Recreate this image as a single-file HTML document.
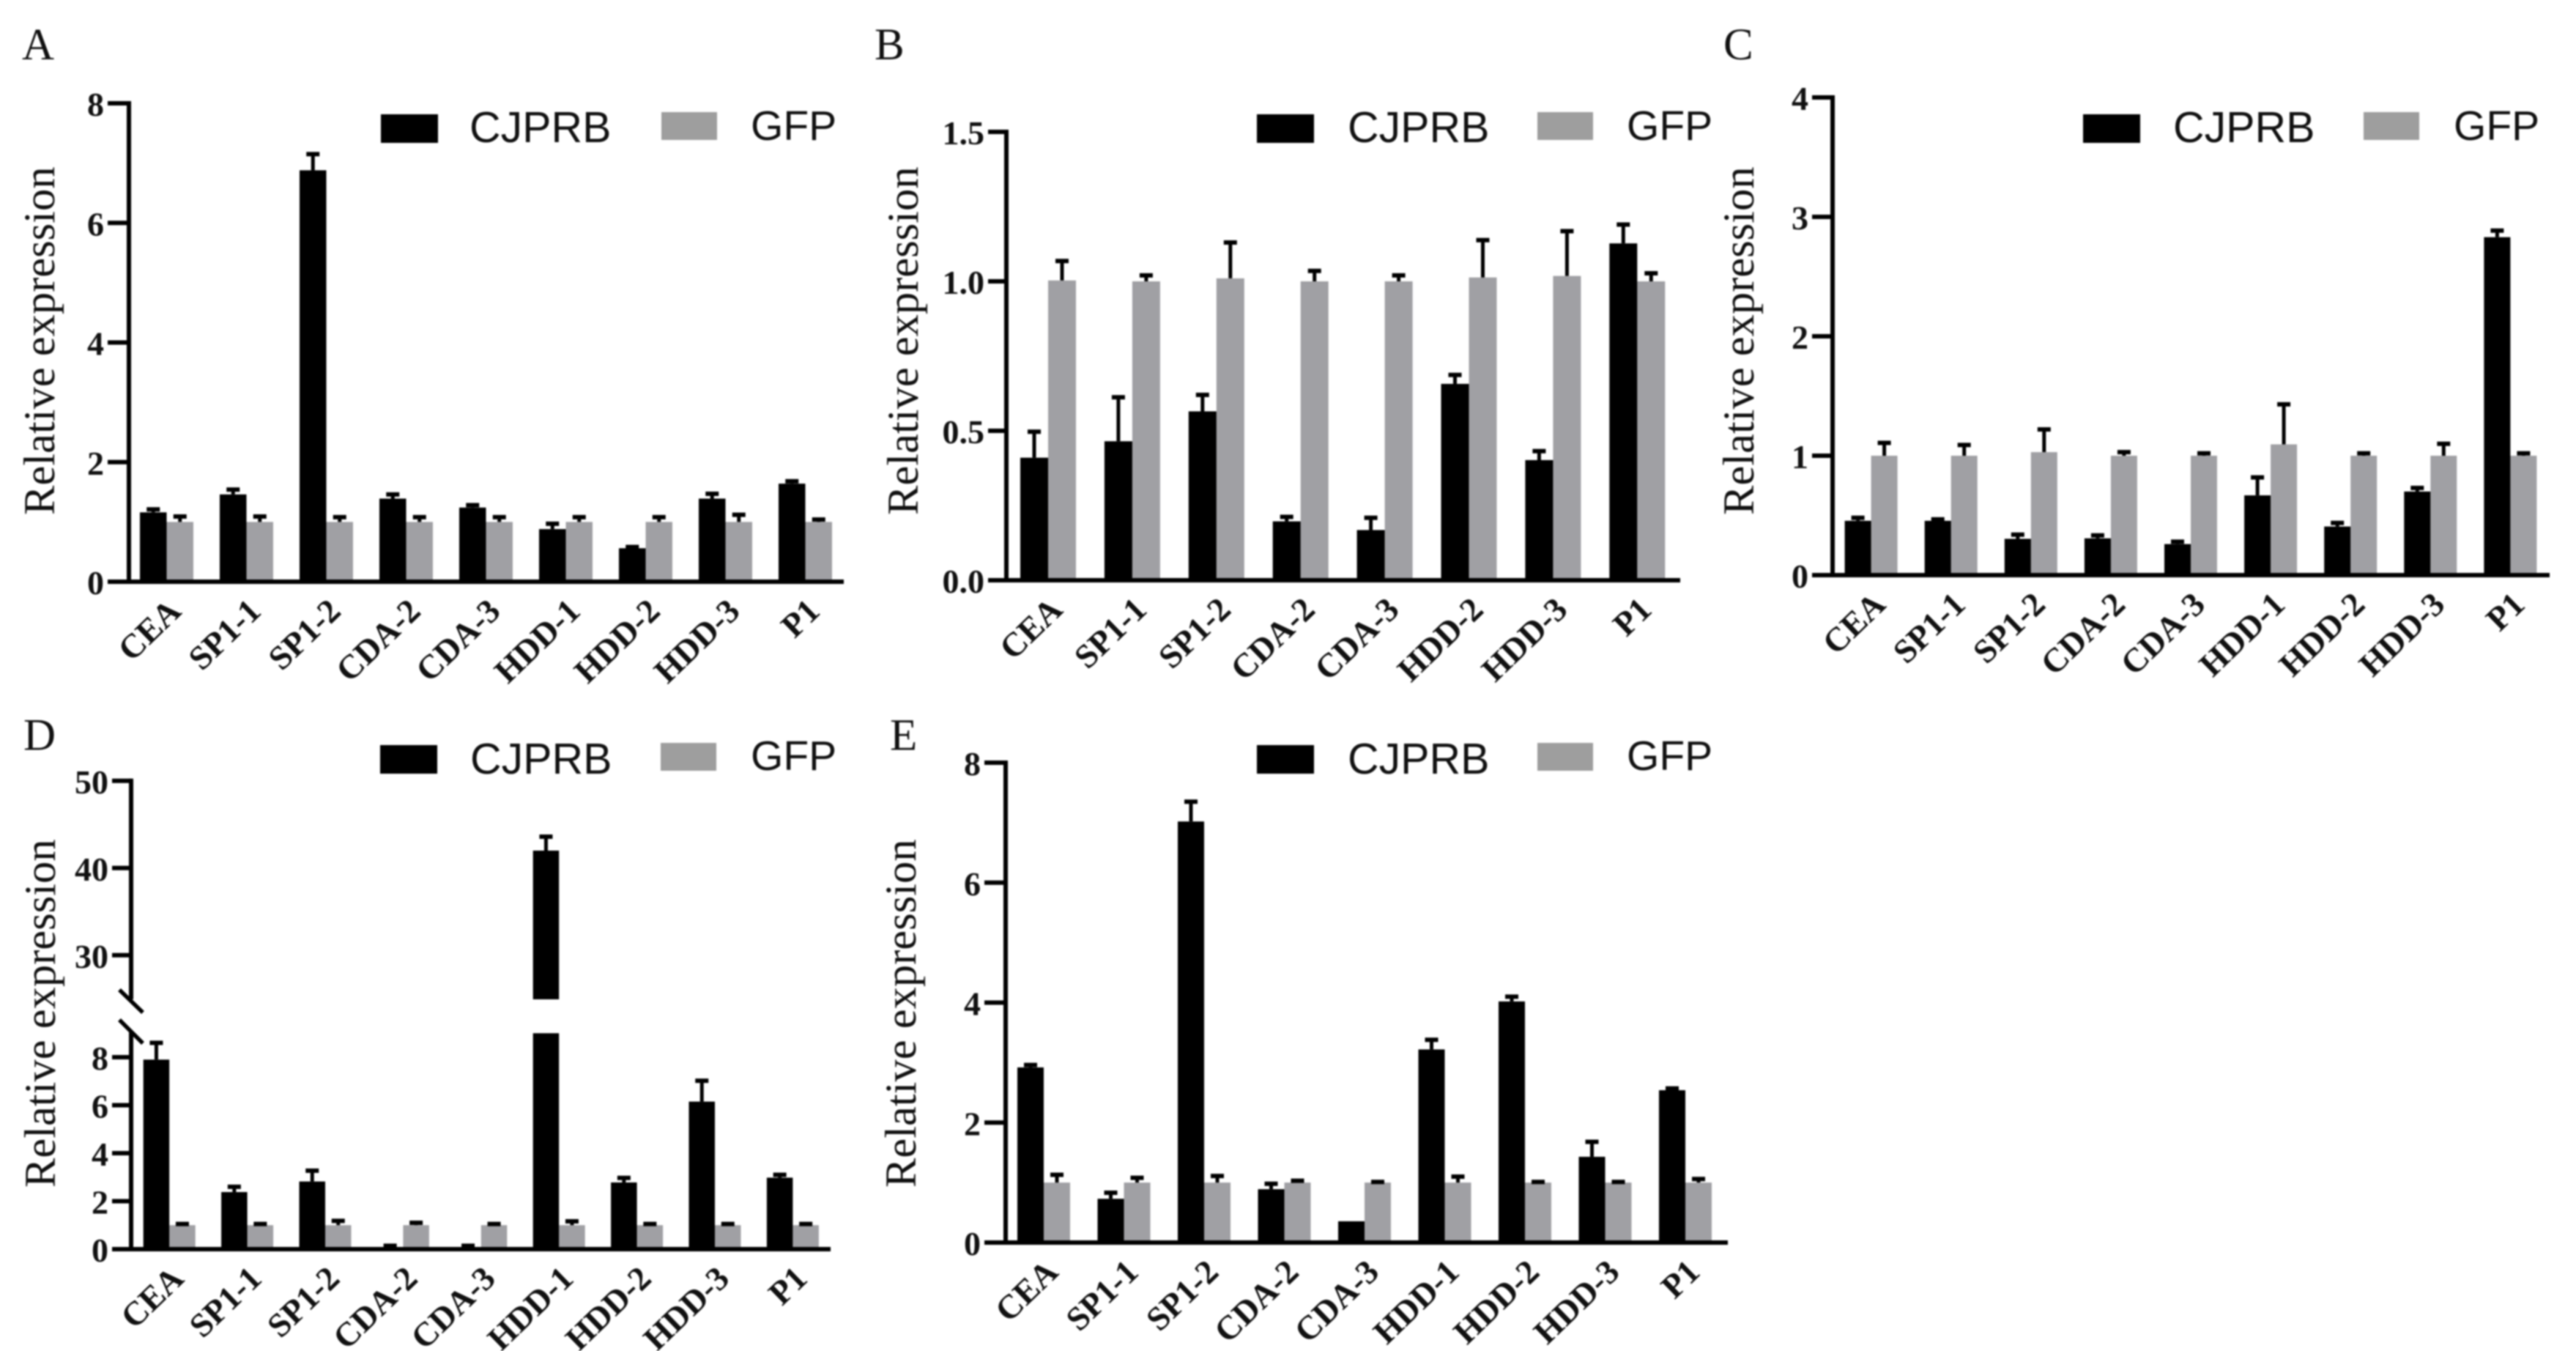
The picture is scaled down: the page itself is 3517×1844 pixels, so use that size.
<!DOCTYPE html>
<html lang="en">
<head>
<meta charset="utf-8">
<title>Relative expression panels A-E</title>
<style>
  html, body { margin: 0; padding: 0; background: #fff; }
  body { width: 3517px; height: 1844px; overflow: hidden; }
  svg { display: block; filter: blur(1px); }
  .serif { font-family: "Liberation Serif", serif; }
  .sans { font-family: "Liberation Sans", sans-serif; }
</style>
</head>
<body>
<svg id="figure" xmlns="http://www.w3.org/2000/svg" width="3517" height="1844" viewBox="0 0 3517 1844"></svg>
<script>
// ---------- data ----------
const categories9A = ['CEA','SP1-1','SP1-2','CDA-2','CDA-3','HDD-1','HDD-2','HDD-3','P1'];
const categories8B = ['CEA','SP1-1','SP1-2','CDA-2','CDA-3','HDD-2','HDD-3','P1'];
const categories9C = ['CEA','SP1-1','SP1-2','CDA-2','CDA-3','HDD-1','HDD-2','HDD-3','P1'];
const categories9D = ['CEA','SP1-1','SP1-2','CDA-2','CDA-3','HDD-1','HDD-2','HDD-3','P1'];
const categories9E = ['CEA','SP1-1','SP1-2','CDA-2','CDA-3','HDD-1','HDD-2','HDD-3','P1'];

const ticksA = [0, 2, 4, 6, 8];
const ticksB = ['0.0', '0.5', '1.0', '1.5'];
const ticksC = [0, 1, 2, 3, 4];
const ticksD = [0, 2, 4, 6, 8, 30, 40, 50];
const ticksE = [0, 2, 4, 6, 8];

const cjprbA = [1.16, 1.46, 6.88, 1.39, 1.24, 0.88, 0.56, 1.39, 1.64];
const cjprbErrA = [0.05, 0.08, 0.27, 0.07, 0.04, 0.09, 0.02, 0.08, 0.04];
const gfpA = [1, 1, 1, 1, 1, 1, 1, 1, 1];
const gfpErrA = [0.09, 0.09, 0.08, 0.08, 0.08, 0.08, 0.08, 0.12, 0.04];

const cjprbB = [0.41, 0.465, 0.565, 0.197, 0.168, 0.657, 0.402, 1.127];
const cjprbErrB = [0.087, 0.147, 0.055, 0.015, 0.041, 0.03, 0.03, 0.063];
const gfpB = [1.003, 1, 1.01, 1, 1, 1.013, 1.018, 1];
const gfpErrB = [0.065, 0.02, 0.12, 0.035, 0.02, 0.125, 0.15, 0.027];

const cjprbC = [0.455, 0.455, 0.304, 0.308, 0.26, 0.668, 0.407, 0.70, 2.83];
const cjprbErrC = [0.025, 0.012, 0.035, 0.025, 0.02, 0.15, 0.03, 0.03, 0.055];
const gfpC = [1, 1, 1.03, 1, 1, 1.095, 1, 1, 1];
const gfpErrC = [0.107, 0.09, 0.19, 0.03, 0.02, 0.335, 0.02, 0.1, 0.02];

const cjprbD = [7.9, 2.38, 2.82, 0.05, 0.05, 42, 2.78, 6.15, 2.98];
const cjprbErrD = [0.7, 0.22, 0.45, 0.09, 0.09, 1.6, 0.19, 0.87, 0.12];
const gfpD = [1, 1, 1, 1, 1, 1, 1, 1, 1];
const gfpErrD = [0.05, 0.05, 0.18, 0.1, 0.05, 0.16, 0.05, 0.05, 0.05];

const cjprbE = [2.92, 0.73, 7.02, 0.89, 0.355, 3.22, 4.02, 1.43, 2.54];
const cjprbErrE = [0.04, 0.1, 0.33, 0.09, 0, 0.16, 0.08, 0.25, 0.03];
const gfpE = [1, 1, 1, 1, 1, 1, 1, 1, 1];
const gfpErrE = [0.13, 0.08, 0.11, 0.03, 0.01, 0.1, 0.01, 0.01, 0.06];

// ---------- layout ----------
const BLACK = '#000000';
const GRAY = '#a0a0a4';
const LEGEND_GRAY = '#9e9e9e';
const NS = 'http://www.w3.org/2000/svg';
const svg = document.getElementById('figure');

function make(tag, attrs, parent) {
  const el = document.createElementNS(NS, tag);
  for (const k in attrs) el.setAttribute(k, attrs[k]);
  (parent || svg).appendChild(el);
  return el;
}

const layouts = [
  { id: 'a', letter: 'A', lx: 30, ly: 81, cats: categories9A, ticks: ticksA, c: cjprbA, ce: cjprbErrA, g: gfpA, ge: gfpErrA,
    axisX: 176, yTop: 141, yBase: 794, yMax: 8, tickLeft: 147, xEnd: 1152, first: 191, barW: 36.5, pitch: 109,
    titleX: 74, titleY: 703,
    leg: { s1: 520, t1: 641, s2: 903, t2: 1025, y1: 156, y2: 153, b1: 193, b2: 191 } },
  { id: 'b', letter: 'B', lx: 1194, ly: 81, cats: categories8B, ticks: ticksB, c: cjprbB, ce: cjprbErrB, g: gfpB, ge: gfpErrB,
    axisX: 1374, yTop: 180, yBase: 792, yMax: 1.5, tickLeft: 1349, xEnd: 2294, first: 1393, barW: 38, pitch: 114.9,
    titleX: 1253, titleY: 703,
    leg: { s1: 1716, t1: 1840, s2: 2099, t2: 2221, y1: 156, y2: 153, b1: 193, b2: 191 } },
  { id: 'c', letter: 'C', lx: 2353, ly: 81, cats: categories9C, ticks: ticksC, c: cjprbC, ce: cjprbErrC, g: gfpC, ge: gfpErrC,
    axisX: 2502, yTop: 133, yBase: 785, yMax: 4, tickLeft: 2474, xEnd: 3481, first: 2518.6, barW: 36, pitch: 109.1,
    titleX: 2394, titleY: 703,
    leg: { s1: 2844, t1: 2967, s2: 3227, t2: 3350, y1: 156, y2: 153, b1: 193, b2: 191 } },
  { id: 'd', letter: 'D', lx: 32, ly: 1023.5, cats: categories9D, ticks: ticksD, c: cjprbD, ce: cjprbErrD, g: gfpD, ge: gfpErrD,
    axisX: 179, yTop: 1065.7, yBase: 1705, yMax: 50, tickLeft: 153, xEnd: 1134, first: 195.7, barW: 35.5, pitch: 106.4,
    titleX: 75, titleY: 1621,
    broken: { lowMax: 9, highMin: 25, lowUnit: 32.75, y30: 1303.8, highUnit: 11.9, lowTopY: 1408, highBottomY: 1364 },
    leg: { s1: 519, t1: 642, s2: 902, t2: 1025, y1: 1017, y2: 1014, b1: 1055, b2: 1051 } },
  { id: 'e', letter: 'E', lx: 1215, ly: 1023.5, cats: categories9E, ticks: ticksE, c: cjprbE, ce: cjprbErrE, g: gfpE, ge: gfpErrE,
    axisX: 1373, yTop: 1041, yBase: 1696, yMax: 8, tickLeft: 1344, xEnd: 2359, first: 1389, barW: 36, pitch: 109.5,
    titleX: 1250, titleY: 1621,
    leg: { s1: 1716, t1: 1840, s2: 2099, t2: 2221, y1: 1017, y2: 1014, b1: 1055, b2: 1051 } }
];

function yScale(p, v) {
  if (p.broken) {
    const b = p.broken;
    if (v <= b.lowMax) return p.yBase - v * b.lowUnit;
    return b.y30 - (v - 30) * b.highUnit;
  }
  return p.yBase - (v / p.yMax) * (p.yBase - p.yTop);
}

function drawBar(p, g, x, v, fill, name) {
  if (p.broken && v > p.broken.highMin) {
    const top = yScale(p, v);
    const upper = make('rect', { x: x, y: top, width: p.barW, height: p.broken.highBottomY - top, fill: fill }, g);
    
    
    const ly = yScale(p, p.broken.lowMax);
    const lower = make('rect', { x: x, y: ly, width: p.barW, height: p.yBase - ly, fill: fill }, g);
    
    
  } else {
    const top = yScale(p, v);
    const bar = make('rect', { x: x, y: top, width: p.barW, height: p.yBase - top, fill: fill }, g);
    
    
  }
}

function drawError(p, g, cx, v, e, name) {
  if (!e) return;
  const y0 = yScale(p, v);
  const y1 = yScale(p, v + e);
  const stem = make('line', { x1: cx, x2: cx, y1: y0, y2: y1, stroke: BLACK, 'stroke-width': 5 }, g);
  
  
  const cap = make('line', { x1: cx - 9, x2: cx + 9, y1: y1, y2: y1, stroke: BLACK, 'stroke-width': 6 }, g);
  
  
}

layouts.forEach(function (p) {
  const g = make('g', {});
  
  

  const letter = make('text', { x: p.lx, y: p.ly, 'font-size': 61, class: 'serif', fill: '#111' }, g);
  letter.textContent = p.letter;
  
  

  const title = make('text', { transform: 'translate(' + p.titleX + ',' + p.titleY + ') rotate(-90)', 'font-size': 60.5, class: 'serif', fill: '#111' }, g);
  title.textContent = 'Relative expression';
  
  

  // bars and error bars
  p.cats.forEach(function (cat, i) {
    const x = p.first + i * p.pitch;
    const key = cat.toLowerCase();
    drawBar(p, g, x + p.barW, p.g[i], GRAY, 'bar-gfp-' + key);
    drawError(p, g, x + p.barW * 1.5, p.g[i], p.ge[i], 'error-gfp-' + key);
    drawBar(p, g, x, p.c[i], BLACK, 'bar-cjprb-' + key);
    drawError(p, g, x + p.barW * 0.5, p.c[i], p.ce[i], 'error-cjprb-' + key);

    const lx = x + p.barW + 22;
    const ly = p.yBase + 43;
    const label = make('text', { transform: 'translate(' + lx + ',' + ly + ') rotate(-44)', 'text-anchor': 'end', 'font-size': 46, 'font-weight': 'bold', class: 'serif', fill: '#111' }, g);
    label.textContent = cat;
    
    
  });

  // axes
  if (p.broken) {
    const b = p.broken;
    const up = make('line', { x1: p.axisX, x2: p.axisX, y1: p.yTop - 3, y2: b.highBottomY, stroke: BLACK, 'stroke-width': 6 }, g);
    
    
    const low = make('line', { x1: p.axisX, x2: p.axisX, y1: b.lowTopY, y2: p.yBase + 3, stroke: BLACK, 'stroke-width': 6 }, g);
    
    
    const s1 = make('line', { x1: p.axisX - 16, y1: b.highBottomY - 13, x2: p.axisX + 16, y2: b.highBottomY + 18, stroke: BLACK, 'stroke-width': 5.5 }, g);
    
    
    const s2 = make('line', { x1: p.axisX - 16, y1: b.lowTopY - 16, x2: p.axisX + 16, y2: b.lowTopY + 16, stroke: BLACK, 'stroke-width': 5.5 }, g);
    
    
  } else {
    const ax = make('line', { x1: p.axisX, x2: p.axisX, y1: p.yTop - 3, y2: p.yBase + 3, stroke: BLACK, 'stroke-width': 6 }, g);
    
    
  }
  const xAxis = make('line', { x1: p.tickLeft, x2: p.xEnd, y1: p.yBase, y2: p.yBase, stroke: BLACK, 'stroke-width': 6 }, g);
  
  

  // y ticks
  p.ticks.forEach(function (t) {
    const y = yScale(p, +t);
    const tick = make('line', { x1: p.tickLeft, x2: p.axisX, y1: y, y2: y, stroke: BLACK, 'stroke-width': 6 }, g);
    
    
    const lab = make('text', { x: p.tickLeft - 5, y: y + 17, 'text-anchor': 'end', 'font-size': 46, 'font-weight': 'bold', class: 'serif', fill: '#111' }, g);
    lab.textContent = t;
    
    
  });

  // legend
  const lg = make('g', {}, g);
  
  
  const sw1 = make('rect', { x: p.leg.s1, y: p.leg.y1, width: 78, height: 39, fill: BLACK }, lg);
  
  
  const tx1 = make('text', { x: p.leg.t1, y: p.leg.b1 + 1, 'font-size': 59, class: 'sans', fill: '#111' }, lg);
  tx1.textContent = 'CJPRB';
  
  
  const sw2 = make('rect', { x: p.leg.s2, y: p.leg.y2, width: 76, height: 38, fill: LEGEND_GRAY }, lg);
  
  
  const tx2 = make('text', { x: p.leg.t2, y: p.leg.b2, 'font-size': 57, class: 'sans', fill: '#111' }, lg);
  tx2.textContent = 'GFP';
  
  
});
</script>
</body>
</html>
